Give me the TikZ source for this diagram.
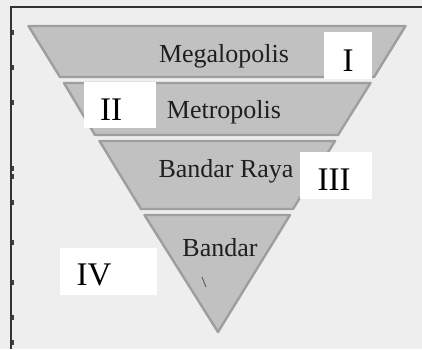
\documentclass[tikz,border=0pt]{standalone}
\usepackage{fontspec}
\setmainfont{Liberation Serif}
\begin{document}
\begin{tikzpicture}[x=1pt,y=-1pt,
  band/.style={fill=bandfill, draw=bandedge, line width=2.4pt, line join=round},
  lvl/.style={font=\fontsize{26}{30}\selectfont, text=black!88, anchor=base, inner sep=0pt},
  wbox/.style={fill=white, draw=none, inner sep=0pt},
  roman/.style={font=\fontsize{33}{36}\selectfont, anchor=base, inner sep=0pt},
  tick/.style={fill=black!75, draw=none}]
\definecolor{paper}{RGB}{238,238,238}
\definecolor{bandfill}{RGB}{193,193,193}
\definecolor{bandedge}{RGB}{158,158,158}
\useasboundingbox (0,0) rectangle (422,349);
\fill[paper] (0,0) rectangle (422,349);
% frame
\draw[black!80, line width=1.6pt] (11,349) -- (11,7) -- (422,7);
\foreach \yy in {30,65,100,166,174,200,240,280,315,340}
  \fill[tick] (11.5,\yy) rectangle (13.8,\yy+5);
% pyramid bands (sides from (27,25)/(407,25) to apex (218,335))
\draw[band] (28.5,26) -- (405.5,26) -- (374,77) -- (60,77) -- cycle;
\draw[band] (64,83) -- (370.5,83) -- (338,135) -- (95,135) -- cycle;
\draw[band] (99.5,141) -- (335,141) -- (293,209) -- (141,209) -- cycle;
\draw[band] (144.5,215) -- (290,215) -- (218,332) -- cycle;
\draw[black!70, line width=0.8pt] (202,277) -- (206,287);
% level labels
\node[lvl] (megalopolis) at (224,62) {Megalopolis};
\node[lvl] (metropolis) at (224,118) {Metropolis};
\node[lvl] (bandarraya) at (226,177) {Bandar Raya};
\node[lvl] (bandar) at (220,256) {Bandar};
% white boxes with roman numerals
\node[wbox, minimum width=48pt, minimum height=47pt] (b1) at (348,55.5) {};
\node[roman] (r1) at (348,71) {I};
\node[wbox, minimum width=72pt, minimum height=46pt] (b2) at (120,105) {};
\node[roman] (r2) at (111,120) {II};
\node[wbox, minimum width=72pt, minimum height=47pt] (b3) at (336,175.5) {};
\node[roman] (r3) at (334,190) {III};
\node[wbox, minimum width=97pt, minimum height=47pt] (b4) at (108.5,271.5) {};
\node[roman] (r4) at (94,285) {IV};
\end{tikzpicture}
\end{document}
